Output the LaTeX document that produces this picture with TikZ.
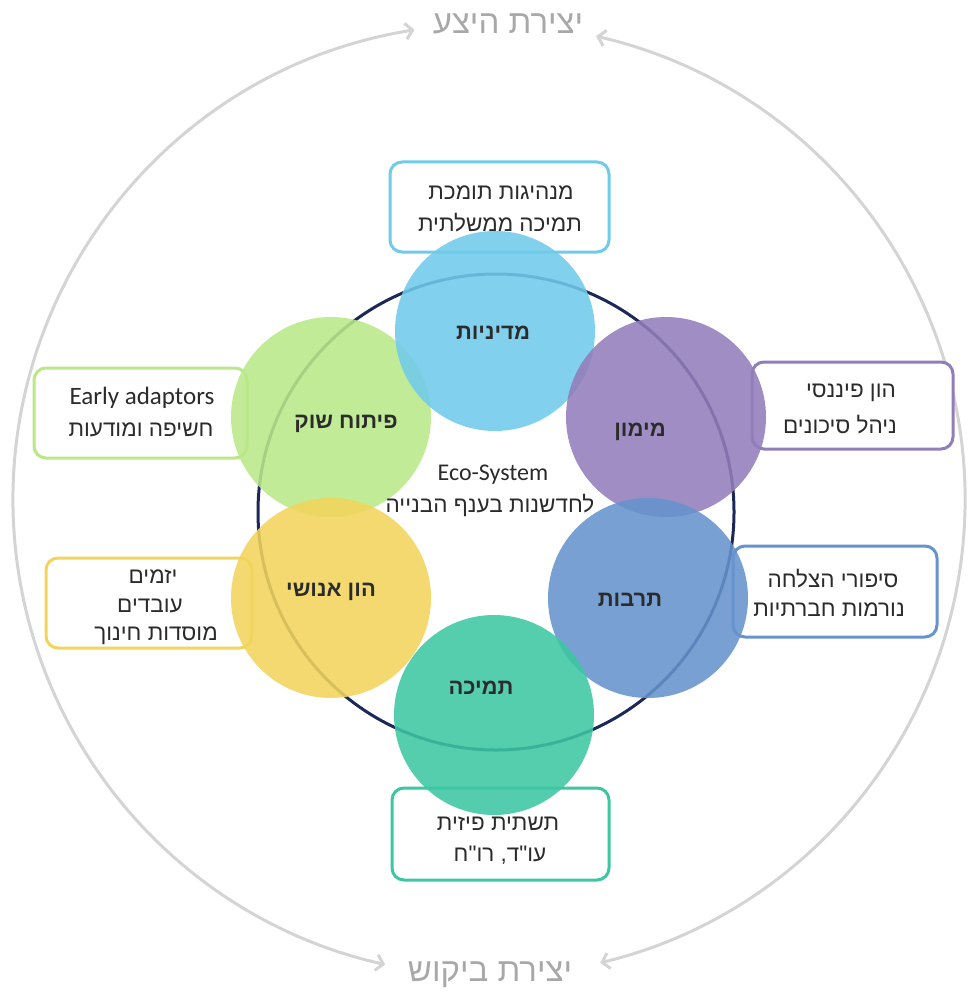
\documentclass[tikz,border=0pt]{standalone}
\usepackage{fontspec}
\usetikzlibrary{arrows.meta}
\TeXXeTstate=1
\newfontfamily\heb[Script=Hebrew]{Liberation Sans}
\newfontfamily\lat{Carlito}
\definecolor{cmad}{HTML}{70CAEA}
\definecolor{cmim}{HTML}{927DBB}
\definecolor{ctar}{HTML}{6693CC}
\definecolor{ctmi}{HTML}{3CC7A2}
\definecolor{chon}{HTML}{F2D45C}
\definecolor{cpit}{HTML}{BAE889}
\definecolor{navy}{HTML}{1C2858}
\definecolor{ogray}{HTML}{D4D4D4}
\definecolor{tgray}{HTML}{A8A8A8}
\definecolor{txt}{HTML}{2B2B2B}
\tikzset{
  outerc/.style={draw=ogray,line width=3pt,{Straight Barb[length=7pt,width=16pt,line width=3pt]}-{Straight Barb[length=7pt,width=16pt,line width=3pt]}},
  bigcap/.style={text=tgray,font=\heb\fontsize{33}{36}\selectfont,inner sep=0pt},
  infobox/.style={draw=#1,line width=3pt,rounded corners=12pt,fill=white},
  boxtxt/.style={text=txt,font=\heb\fontsize{22.5}{26}\selectfont,inner sep=0pt},
  ecotxt/.style={text=txt,font=\heb\fontsize{22.5}{26}\selectfont,inner sep=0pt},
  boxlat/.style={text=txt,font=\lat\fontsize{25}{28}\selectfont,inner sep=0pt},
  ecolat/.style={text=txt,font=\lat\fontsize{24}{26}\selectfont,inner sep=0pt},
  ball/.style={circle,fill=#1,fill opacity=0.88,minimum size=200pt,inner sep=0pt},
  balltxt/.style={text=txt,font=\heb\bfseries\fontsize{22}{26}\selectfont,inner sep=0pt},
}
\begin{document}
\begin{tikzpicture}[x=1pt,y=1pt]
\useasboundingbox (0,0) rectangle (969,-992);
% outer circle
\coordinate (O) at (489,-500);
\draw[outerc] ([shift={(99:476)}]O) arc[start angle=99,end angle=257.4,radius=476];
\draw[outerc] ([shift={(77:476)}]O) arc[start angle=77,end angle=-76.5,radius=476];
\node[bigcap] (supply) at (508,-24) {\beginR יצירת היצע\endR};
\node[bigcap] (demand) at (490,-975) {\beginR יצירת ביקוש\endR};
% boxes
\draw[infobox=cmad] (390,-162) rectangle (609,-252);
\draw[infobox=cmim] (752,-362) rectangle (953,-449);
\draw[infobox=ctar] (733,-546) rectangle (937,-637);
\draw[infobox=ctmi] (392,-788) rectangle (609,-880);
\draw[infobox=cpit] (34,-368) rectangle (247,-458);
\draw[infobox=chon] (46,-558) rectangle (252,-648);
% navy ring
\draw[navy,line width=3pt] (496,-512) circle[radius=238];
% balls
\node[ball=cpit] (pit) at (331,-417) {};
\node[ball=cmad] (mad) at (495,-331) {};
\node[ball=cmim] (mim) at (666,-417) {};
\node[ball=ctar] (tar) at (648,-598) {};
\node[ball=chon] (hon) at (331,-598) {};
\node[ball=ctmi] (tmi) at (494,-715) {};
% ball labels
\node[balltxt] (tmad) at (493,-333) {\beginR מדיניות\endR};
\node[balltxt] (tmim) at (640,-432) {\beginR מימון\endR};
\node[balltxt] (ttar) at (630,-600) {\beginR תרבות\endR};
\node[balltxt] (ttmi) at (481,-688) {\beginR תמיכה\endR};
\node[balltxt] (thon) at (331,-592) {\beginR הון אנושי\endR};
\node[balltxt] (tpit) at (346,-424) {\beginR פיתוח שוק\endR};
% center
\node[ecolat] (eco) at (493,-475) {Eco-System};
\node[ecotxt] (ecoh) at (490,-505) {\beginR לחדשנות בענף הבנייה\endR};
% box texts
\node[boxtxt] (a1) at (501,-193) {\beginR מנהיגות תומכת\endR};
\node[boxtxt] (a2) at (500,-223) {\beginR תמיכה ממשלתית\endR};
\node[boxtxt] (b1) at (851,-393) {\beginR הון פיננסי\endR};
\node[boxtxt] (b2) at (840,-425) {\beginR ניהל סיכונים\endR};
\node[boxtxt] (c1) at (833,-579) {\beginR סיפורי הצלחה\endR};
\node[boxtxt] (c2) at (829,-610) {\beginR נורמות חברתיות\endR};
\node[boxtxt] (d1) at (498,-824) {\beginR תשתית פיזית\endR};
\node[boxtxt] (d2) at (500,-855) {\beginR עו"ד, רו"ח\endR};
\node[boxlat] (e1) at (142,-398) {Early adaptors};
\node[boxtxt] (e2) at (141,-430) {\beginR חשיפה ומודעות\endR};
\node[boxtxt] (f1) at (153,-577) {\beginR יזמים\endR};
\node[boxtxt] (f2) at (150,-606) {\beginR עובדים\endR};
\node[boxtxt] (f3) at (156,-636) {\beginR מוסדות חינוך\endR};
\end{tikzpicture}
\end{document}
